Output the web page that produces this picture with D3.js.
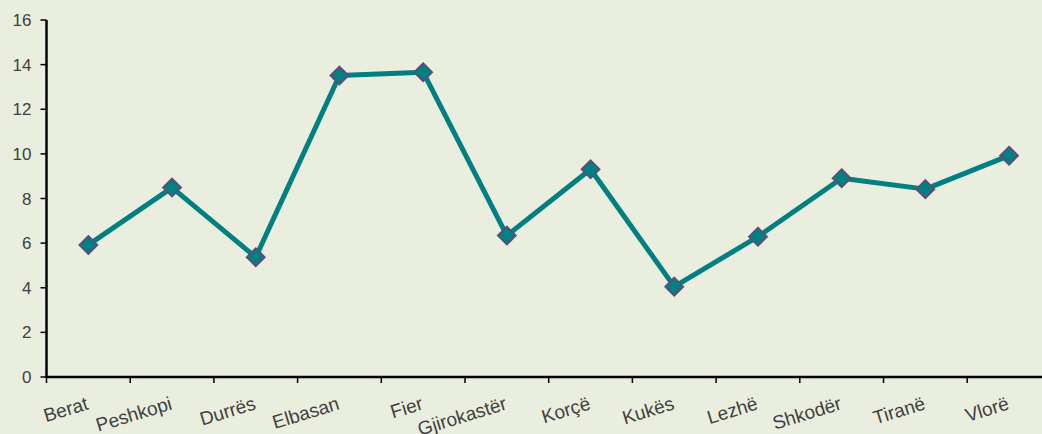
<!DOCTYPE html>
<html>
<head>
<meta charset="utf-8">
<script src="https://cdn.jsdelivr.net/npm/d3@7"></script>
<style>
  html, body { margin: 0; padding: 0; background: #eaeede; }
  svg { display: block; }
</style>
</head>
<body>
<svg id="chart" width="1042" height="434"></svg>
<script>
const categories = ["Berat", "Peshkopi", "Durrës", "Elbasan", "Fier", "Gjirokastër",
  "Korçë", "Kukës", "Lezhë", "Shkodër", "Tiranë", "Vlorë"];
const values = [5.92, 8.49, 5.37, 13.51, 13.66, 6.34, 9.31, 4.05, 6.29, 8.91, 8.42, 9.92];
const yTicks = [0, 2, 4, 6, 8, 10, 12, 14, 16];

const svg = d3.select("#chart");
const width = +svg.attr("width");
const height = +svg.attr("height");
const margin = { left: 46.5, top: 20, bottom: 57 };

svg.append("rect").attr("width", width).attr("height", height).attr("fill", "#eaeede");

// plot runs past the right edge of the picture
const x = d3.scaleBand().domain(categories).range([margin.left, margin.left + 12 * 83.7]);
const y = d3.scaleLinear().domain([0, 16]).range([height - margin.bottom, margin.top]);

// y axis
const yAxis = svg.append("g").attr("transform", `translate(${margin.left},0)`);
yAxis.append("line")
  .attr("y1", y(16)).attr("y2", y(0))
  .attr("stroke", "#000").attr("stroke-width", 2.5);
yAxis.selectAll("line.tick").data(yTicks).enter().append("line")
  .attr("class", "tick")
  .attr("x1", -6).attr("x2", 0)
  .attr("y1", d => y(d)).attr("y2", d => y(d))
  .attr("stroke", "#000").attr("stroke-width", 1.5);
yAxis.selectAll("text").data(yTicks).enter().append("text")
  .attr("x", -15).attr("y", d => y(d))
  .attr("dy", "0.36em")
  .attr("text-anchor", "end")
  .style("font-family", "Liberation Sans, Arial, sans-serif")
  .style("font-size", "17px")
  .style("fill", "#404040")
  .text(d => d);

// x axis
const xAxis = svg.append("g").attr("transform", `translate(0,${y(0)})`);
xAxis.append("line")
  .attr("x1", margin.left - 1).attr("x2", width)
  .attr("stroke", "#000").attr("stroke-width", 2.5);
xAxis.selectAll("line.tick").data(categories).enter().append("line")
  .attr("class", "tick")
  .attr("x1", d => x(d)).attr("x2", d => x(d))
  .attr("y1", 0).attr("y2", 6)
  .attr("stroke", "#000").attr("stroke-width", 1.5);
// labels tilted, right end under the point
xAxis.selectAll("text").data(categories).enter().append("text")
  .attr("text-anchor", "end")
  .attr("transform", d => `translate(${x(d) + x.bandwidth() / 2 + 1},32) rotate(-17)`)
  .style("font-family", "Liberation Sans, Arial, sans-serif")
  .style("font-size", "19px")
  .style("fill", "#404040")
  .text(d => d);

// series line
const data = categories.map((c, i) => ({ cat: c, value: values[i] }));
const line = d3.line()
  .x(d => x(d.cat) + x.bandwidth() / 2)
  .y(d => y(d.value));

svg.append("path")
  .datum(data)
  .attr("d", line)
  .attr("fill", "none")
  .attr("stroke", "#008080")
  .attr("stroke-width", 5)
  .attr("stroke-linejoin", "round");

// diamond markers
svg.selectAll("path.marker").data(data).enter().append("path")
  .attr("class", "marker")
  .attr("d", "M0,-9L9,0L0,9L-9,0Z")
  .attr("transform", d => `translate(${x(d.cat) + x.bandwidth() / 2},${y(d.value)})`)
  .attr("fill", "#008080")
  .attr("stroke", "#604a7b")
  .attr("stroke-width", 1.8);
</script>
</body>
</html>
